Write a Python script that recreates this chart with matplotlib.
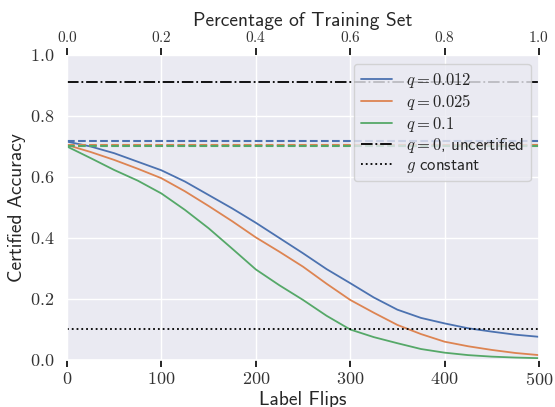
import matplotlib
matplotlib.use("Agg")
import matplotlib.pyplot as plt
import seaborn as sns
from matplotlib.ticker import FuncFormatter

flips = [0, 25, 50, 75, 100, 125, 150, 175, 200, 225, 250, 275, 300, 325, 350, 375, 400, 425, 450, 475, 500]
acc_q012 = [0.716, 0.700, 0.678, 0.650, 0.622, 0.585, 0.541, 0.497, 0.450, 0.400, 0.350, 0.298, 0.252, 0.205, 0.165, 0.138, 0.120, 0.104, 0.093, 0.083, 0.076]
acc_q025 = [0.705, 0.682, 0.656, 0.627, 0.596, 0.553, 0.505, 0.455, 0.402, 0.355, 0.306, 0.250, 0.197, 0.155, 0.115, 0.085, 0.060, 0.045, 0.033, 0.023, 0.016]
acc_q1 = [0.700, 0.662, 0.623, 0.588, 0.546, 0.492, 0.432, 0.365, 0.297, 0.245, 0.197, 0.145, 0.100, 0.075, 0.055, 0.036, 0.024, 0.016, 0.011, 0.008, 0.006]
clean_q012 = 0.718
clean_q025 = 0.706
clean_q1 = 0.703
uncertified = 0.91
g_constant = 0.1
labels = ["$q = 0.012$", "$q = 0.025$", "$q = 0.1$", "$q = 0$, uncertified", "$g$ constant"]
bottom_ticks = [0, 100, 200, 300, 400, 500]
top_ticks = [0.0, 0.2, 0.4, 0.6, 0.8, 1.0]
y_ticks = [0.0, 0.2, 0.4, 0.6, 0.8, 1.0]

sns.set_theme(style="darkgrid")
plt.rcParams['font.family'] = ['cmss10', 'DejaVu Sans']
plt.rcParams['mathtext.fontset'] = 'cm'
plt.rcParams['axes.unicode_minus'] = False

fig = plt.figure(figsize=(5.55, 4.07), dpi=100)
ax = fig.add_axes([0.1207, 0.1155, 0.8504, 0.7494])
cols = sns.color_palette("deep")

ax.plot(flips, acc_q012, color=cols[0], lw=1.3, label=labels[0])
ax.plot(flips, acc_q025, color=cols[1], lw=1.3, label=labels[1])
ax.plot(flips, acc_q1, color=cols[2], lw=1.3, label=labels[2])
ax.axhline(clean_q012, color=cols[0], ls='--', lw=1.5)
ax.axhline(clean_q025, color=cols[1], ls='--', lw=1.5)
ax.axhline(clean_q1, color=cols[2], ls='--', lw=1.5)
ax.axhline(uncertified, color='black', ls='-.', lw=1.3, label=labels[3])
ax.axhline(g_constant, color='black', ls=':', lw=1.3, label=labels[4])

ax.set_xlim(0, 500)
ax.set_ylim(0, 1)
ax.set_xticks(bottom_ticks)
ax.set_yticks(y_ticks)
fmt0 = FuncFormatter(lambda v, p: f"${v:.0f}$")
fmt1 = FuncFormatter(lambda v, p: f"${v:.1f}$")
ax.xaxis.set_major_formatter(fmt0)
ax.yaxis.set_major_formatter(fmt1)
ax.tick_params(axis='x', bottom=True, length=5, width=1.2, color='black', labelsize=13, pad=3, labelcolor='#333333')
ax.tick_params(axis='y', left=False, length=0, labelsize=13, pad=9, labelcolor='#333333')
ax.set_xlabel("Label Flips", fontsize=14, labelpad=2, color='#262626')
ax.set_ylabel("Certified Accuracy", fontsize=14, labelpad=3, color='#262626')

ax2 = ax.twiny()
ax2.set_xlim(0, 1)
ax2.set_xticks(top_ticks)
ax2.xaxis.set_major_formatter(fmt1)
ax2.tick_params(axis='x', top=True, length=5, width=1.2, color='black', labelsize=11, pad=2, labelcolor='#333333')
ax2.grid(False)
ax2.set_xlabel("Percentage of Training Set", fontsize=14, labelpad=3, color='#262626')
for s in ax2.spines.values():
    s.set_visible(False)

leg = ax.legend(loc='upper right', fontsize=12, handlelength=1.9, labelspacing=0.15,
                borderaxespad=0.5, handletextpad=0.8, bbox_to_anchor=(1.0, 0.998))
for t in leg.get_texts():
    t.set_color('#262626')

fig.savefig("out.png", dpi=100)
